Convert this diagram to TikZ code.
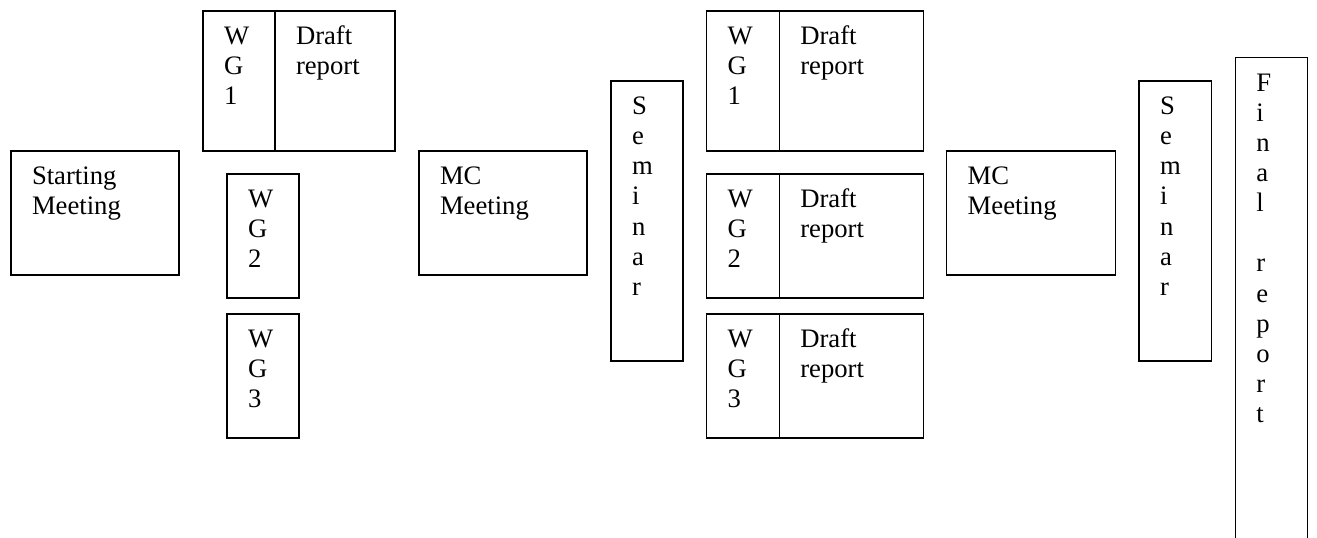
\documentclass[tikz,border=0pt]{standalone}
\usepackage{fontspec}
\setmainfont{Liberation Serif}
\begin{document}
\begin{tikzpicture}[x=0.75pt,y=-0.75pt,
  box/.style={draw=black,line width=1pt,rectangle,anchor=north west,inner sep=0pt,outer sep=0pt},
  size/.style 2 args={minimum width={#1*0.75pt},minimum height={#2*0.75pt}},
  txt/.style={anchor=base west,inner sep=0pt,outer sep=0pt,font=\fontsize{20}{22.6}\selectfont}]
\newcommand{\lines}[1]{\begin{tabular}[t]{@{}l@{}}#1\end{tabular}}
\useasboundingbox (0,0) rectangle (1317,538);
\fill[white] (0,0) rectangle (1317,538);
\clip (0,0) rectangle (1317,538);

% starting meeting
\node[box,size={168}{124}] (start) at (11,151) {};
\node[txt] (starttxt) at ([shift={(21,33.5)}]start.north west) {\lines{Starting\\Meeting}};

% first round of working groups
\node[box,size={72}{140}] (wga) at (203,11) {};
\node[box,size={120}{140}] (dra) at (275,11) {};
\node[box,size={72}{124}] (wgb) at (227,174) {};
\node[box,size={72}{124}] (wgc) at (227,314) {};
\node[txt] at ([shift={(21,33.5)}]wga.north west) {\lines{W\\G\\1}};
\node[txt] at ([shift={(21,33.5)}]dra.north west) {\lines{Draft\\report}};
\node[txt] at ([shift={(21,33.5)}]wgb.north west) {\lines{W\\G\\2}};
\node[txt] at ([shift={(21,33.5)}]wgc.north west) {\lines{W\\G\\3}};

% first MC meeting and seminar
\node[box,size={168}{124}] (mca) at (419,151) {};
\node[txt] at ([shift={(21,33.5)}]mca.north west) {\lines{MC\\Meeting}};
\node[box,size={72}{280}] (sema) at (611,81) {};
\node[txt] at ([shift={(21,33.5)}]sema.north west) {\lines{S\\e\\m\\i\\n\\a\\r}};

% second round of working groups with draft reports
\node[box,size={72.6}{140}] (wgd) at (706.7,11) {};
\node[box,size={144}{140}] (drd) at (779.3,11) {};
\node[box,size={72.6}{124}] (wge) at (706.7,174) {};
\node[box,size={144}{124}] (dre) at (779.3,174) {};
\node[box,size={72.6}{124}] (wgf) at (706.7,314) {};
\node[box,size={144}{124}] (drf) at (779.3,314) {};
\node[txt] at ([shift={(21,33.5)}]wgd.north west) {\lines{W\\G\\1}};
\node[txt] at ([shift={(21,33.5)}]drd.north west) {\lines{Draft\\report}};
\node[txt] at ([shift={(21,33.5)}]wge.north west) {\lines{W\\G\\2}};
\node[txt] at ([shift={(21,33.5)}]dre.north west) {\lines{Draft\\report}};
\node[txt] at ([shift={(21,33.5)}]wgf.north west) {\lines{W\\G\\3}};
\node[txt] at ([shift={(21,33.5)}]drf.north west) {\lines{Draft\\report}};

% second MC meeting, seminar and final report
\node[box,size={168.6}{124}] (mcb) at (946.7,151) {};
\node[txt] at ([shift={(21,33.5)}]mcb.north west) {\lines{MC\\Meeting}};
\node[box,size={72.3}{280}] (semb) at (1139,81) {};
\node[txt] at ([shift={(21,33.5)}]semb.north west) {\lines{S\\e\\m\\i\\n\\a\\r}};
\node[box,size={72}{520}] (final) at (1235.3,57.7) {};
\node[txt] at ([shift={(21,33.5)}]final.north west) {\lines{F\\i\\n\\a\\l\\ \\r\\e\\p\\o\\r\\t}};
\end{tikzpicture}
\end{document}
